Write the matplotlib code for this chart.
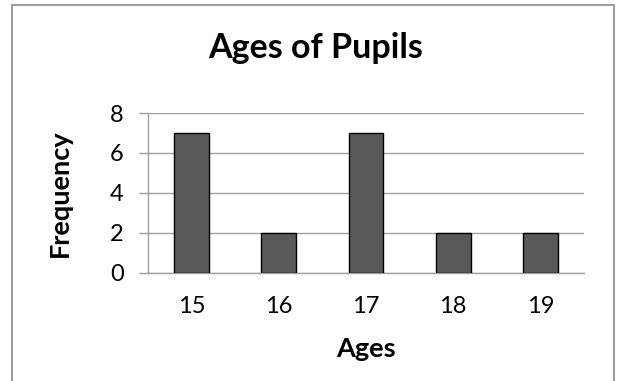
import numpy as np
import matplotlib.pyplot as plt
from matplotlib.patches import Rectangle

ages = ['15', '16', '17', '18', '19']
frequency = [7, 2, 7, 2, 2]
y_ticks = [0, 2, 4, 6, 8]

W, H = 621, 381
plt.rcParams['font.family'] = ['Lato', 'DejaVu Sans']

fig = plt.figure(figsize=(W / 100, H / 100), dpi=100)

# outer chart border (bottom edge falls outside the picture)
fig.patches.append(Rectangle((12 / W, -0.05), (614 - 12) / W, 1.05 - 4.5 / H,
                             transform=fig.transFigure, fill=False,
                             edgecolor='#a0a0a0', linewidth=1.5))

ax = fig.add_axes([148 / W, (H - 272.5) / H, (584 - 148) / W, (272.5 - 113) / H])
x = np.arange(len(ages))
ax.bar(x, frequency, width=0.4, color='#595959', edgecolor='black', linewidth=1.0, zorder=3)

ax.set_xlim(-0.5, len(ages) - 0.5)
ax.set_ylim(0, 8)
ax.set_yticks(y_ticks)
ax.set_xticks(x)
ax.set_xticklabels(ages)
ax.grid(axis='y', color='#a0a0a0', linewidth=1.0, zorder=0)

for s in ['top', 'right']:
    ax.spines[s].set_visible(False)
ax.spines['left'].set_color('#a0a0a0')
ax.spines['bottom'].set_color('#a0a0a0')
ax.spines['left'].set_linewidth(1.0)
ax.spines['bottom'].set_linewidth(1.0)

ax.tick_params(axis='y', length=6.5, width=1.0, color='#a0a0a0', pad=11, labelsize=17)
ax.tick_params(axis='x', length=0, pad=17, labelsize=17)

fig.text(316 / W, 1 - 48 / H, 'Ages of Pupils', ha='center', va='center',
         fontsize=24.5, fontweight='bold')
fig.text(60 / W, 1 - 193.5 / H, 'Frequency', ha='center', va='center',
         rotation=90, fontsize=19.5, fontweight='bold')
fig.text(366 / W, 1 - 357 / H, 'Ages', ha='center', va='baseline',
         fontsize=19.5, fontweight='bold')

fig.savefig('out.png', dpi=100)
